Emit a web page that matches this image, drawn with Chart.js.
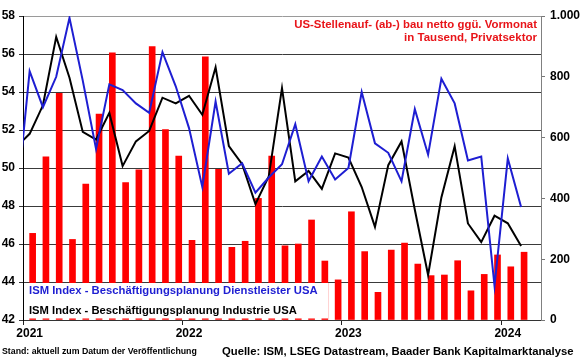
<!DOCTYPE html>
<html><head><meta charset="utf-8">
<script src="https://cdn.jsdelivr.net/npm/chart.js@4.4.1/dist/chart.umd.min.js"></script>
<style>html,body{margin:0;padding:0;background:#fff;overflow:hidden}</style>
</head><body>
<canvas id="c" width="580" height="359"></canvas>
<script>
// Categories for the bars (monthly, Jan 2021 .. Mar 2024)
const categories = [
  'Jan 2021','Feb 2021','Mär 2021','Apr 2021','Mai 2021','Jun 2021','Jul 2021','Aug 2021','Sep 2021','Okt 2021','Nov 2021','Dez 2021',
  'Jan 2022','Feb 2022','Mär 2022','Apr 2022','Mai 2022','Jun 2022','Jul 2022','Aug 2022','Sep 2022','Okt 2022','Nov 2022','Dez 2022',
  'Jan 2023','Feb 2023','Mär 2023','Apr 2023','Mai 2023','Jun 2023','Jul 2023','Aug 2023','Sep 2023','Okt 2023','Nov 2023','Dez 2023',
  'Jan 2024','Feb 2024','Mär 2024'
];
const yearLabels = ['2021','2022','2023','2024'];
// US private payroll change (thousands), Jan 2021 .. Feb 2024
const jobs = [285,537,746,265,447,677,879,452,494,899,626,539,
              262,866,496,239,259,400,539,244,250,329,194,132,
              356,225,91,230,253,184,146,148,195,96,150,214,
              175,223];
// ISM series, Dec 2020 .. Feb 2024 (first value lies just left of the plot)
const lineMonths = ['Dez 2020'].concat(categories.slice(0,38));
const ismServices = [48.0,
  55.1,53.2,54.8,57.9,54.6,51.0,54.4,54.1,53.4,52.9,56.1,54.3,
  52.1,49.0,53.5,49.7,50.25,48.7,49.5,50.2,52.3,49.3,50.6,49.4,
  50.0,54.0,51.3,50.8,49.3,53.1,50.7,54.7,53.4,50.4,50.6,43.8,
  50.5,47.95];
const ismIndustry = [51.1,
  51.8,53.3,56.9,54.75,51.9,51.5,52.9,50.1,51.4,51.95,53.7,53.4,
  53.8,52.8,55.3,51.15,50.2,48.1,49.55,54.2,49.3,49.85,48.9,50.77,
  50.55,49.0,46.9,50.15,51.4,47.8,44.37,48.45,51.15,47.08,46.1,47.49,
  47.09,45.89];
const leftTicks = {min:42, max:58, step:2};
const rightTicks = {min:0, max:1000, step:200};

const FONT = '"Liberation Sans", Arial, sans-serif';
const RED = '#ff0000', TITLE_RED = '#e81419', BLUE = '#1e1ed2';

function fmtDE(v){ return String(v).replace(/\B(?=(\d{3})+(?!\d))/g,'.'); }

function fitText(ctx, text, x, y, align, color, target){
  ctx.save();
  ctx.font = 'bold 100px ' + FONT;
  const w = ctx.measureText(text).width;
  const size = 100 * target / w;
  ctx.font = 'bold ' + size.toFixed(2) + 'px ' + FONT;
  ctx.fillStyle = color;
  ctx.textAlign = align;
  ctx.textBaseline = 'middle';
  ctx.fillText(text, x, y);
  ctx.restore();
}

const overlay = {
  id: 'overlay',
  afterDatasetsDraw(chart){
    const ctx = chart.ctx;
    ctx.save();
    ctx.fillStyle = '#ffffff';
    ctx.fillRect(24, 283, 304, 35.5);
    ctx.restore();
  },
  afterDraw(chart){
    const ctx = chart.ctx;
    fitText(ctx, 'US-Stellenauf- (ab-) bau netto ggü. Vormonat', 537, 25, 'right', TITLE_RED, 243);
    fitText(ctx, 'in Tausend, Privatsektor', 537, 37.5, 'right', TITLE_RED, 133);
    fitText(ctx, 'ISM Index - Beschäftigungsplanung Dienstleister USA', 29, 290.5, 'left', BLUE, 289);
    fitText(ctx, 'ISM Index - Beschäftigungsplanung Industrie USA', 29, 311, 'left', '#000', 268);
    fitText(ctx, 'Stand: aktuell zum Datum der Veröffentlichung', 2, 352, 'left', '#000', 195);
    fitText(ctx, 'Quelle: ISM, LSEG Datastream, Baader Bank Kapitalmarktanalyse', 222, 351.5, 'left', '#000', 352);
  }
};

new Chart(document.getElementById('c'), {
  data: {
    labels: categories,
    datasets: [
      { type:'line', label:'ISM Dienstleister', data: ismServices.map((v,i)=>({x:i-1, y:v})),
        xAxisID:'x2', yAxisID:'y', borderColor: BLUE, borderWidth: 2, pointRadius: 0,
        tension: 0, clip: 0, order: 0 },
      { type:'line', label:'ISM Industrie', data: ismIndustry.map((v,i)=>({x:i-1, y:v})),
        xAxisID:'x2', yAxisID:'y', borderColor: '#000', borderWidth: 2, pointRadius: 0,
        tension: 0, clip: 0, order: 1 },
      { type:'bar', label:'US-Stellenaufbau', data: jobs, xAxisID:'x', yAxisID:'y1',
        backgroundColor: RED, borderWidth: 0, barThickness: 6, order: 2 }
    ]
  },
  options: {
    responsive: false,
    animation: false,
    devicePixelRatio: 1,
    layout: { padding: { top: 16, left: 0, right: 0, bottom: 0 } },
    plugins: { legend: { display: false }, tooltip: { enabled: false } },
    scales: {
      x: {
        type: 'category', position: 'bottom', offset: true,
        afterFit(s){ s.height = 39; },
        grid: { offset: true, drawOnChartArea: false, drawTicks: true, tickLength: 5,
          color: (c)=> (c.index % 12 === 0 ? '#222' : 'rgba(0,0,0,0)') },
        border: { display: true, color: '#333', width: 1 },
        ticks: { autoSkip: false, maxRotation: 0, padding: 1, color: '#000',
          font: { family: FONT, size: 12, weight: 'bold' },
          callback: (v, i)=> (i % 12 === 0 ? yearLabels[i/12] : '') }
      },
      x2: { type: 'linear', display: false, min: -0.5, max: 38.5 },
      y: {
        type: 'linear', position: 'left', min: leftTicks.min, max: leftTicks.max,
        afterFit(s){ s.width = 23; },
        grid: { color: (c)=> (c.tick && c.tick.value === leftTicks.max ? '#9a9a9a' : '#3a3a3a'),
          lineWidth: 1, drawTicks: true, tickLength: 4, tickColor: '#333' },
        border: { display: true, color: '#000', width: 1 },
        ticks: { stepSize: leftTicks.step, padding: 4, color: '#000',
          font: { family: FONT, size: 12, weight: 'bold' } }
      },
      y1: {
        type: 'linear', position: 'right', min: rightTicks.min, max: rightTicks.max,
        afterFit(s){ s.width = 39; },
        grid: { drawOnChartArea: false, drawTicks: true, tickLength: 4, tickColor: '#777' },
        border: { display: true, color: '#808080', width: 1 },
        ticks: { stepSize: rightTicks.step, padding: 5, color: '#000',
          font: { family: FONT, size: 12, weight: 'bold' },
          callback: (v)=> fmtDE(v) }
      }
    }
  },
  plugins: [overlay]
});
</script>
</body></html>
